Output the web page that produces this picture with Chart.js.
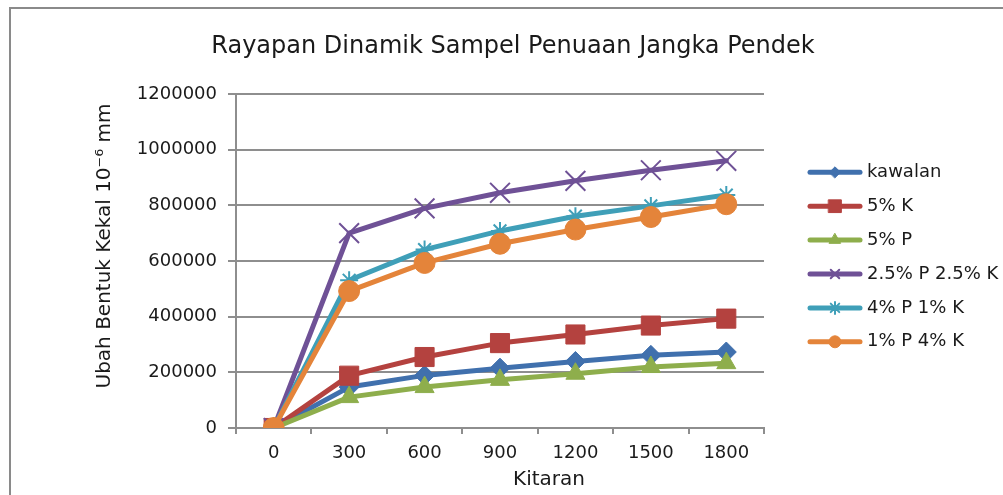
<!DOCTYPE html>
<html>
<head>
<meta charset="utf-8">
<script src="https://cdn.jsdelivr.net/npm/chart.js@4/dist/chart.umd.min.js"></script>
<style>
  html, body { margin: 0; padding: 0; background: #fff; overflow: hidden; }
  #wrap { width: 1003px; height: 495px; position: relative; }
</style>
</head>
<body>
<div id="wrap"><canvas id="c" width="1003" height="495"></canvas></div>
<script>
// Cycle counts along the x axis
const cycles = ['0', '300', '600', '900', '1200', '1500', '1800'];

// Permanent deformation (10^-6 mm) per mix
const kawalan = [0, 147000, 189000, 215000, 239000, 261000, 273000];
const k5      = [0, 188000, 255000, 305000, 336000, 368000, 393000];
const p5      = [0, 111000, 147000, 173000, 195000, 219000, 233000];
const p25k25  = [0, 700000, 789000, 845000, 888000, 926000, 960000];
const p4k1    = [0, 531000, 641000, 708000, 761000, 798000, 837000];
const p1k4    = [0, 492000, 593000, 662000, 713000, 758000, 804000];

// Value axis ticks
const yTicks = [0, 200000, 400000, 600000, 800000, 1000000, 1200000];

const TITLE = 'Rayapan Dinamik Sampel Penuaan Jangka Pendek';
const FONT = "'DejaVu Sans', sans-serif";
const GRID = '#8e8e8e';
const TEXT = '#1a1a1a';

function series(label, data, color, style, radius, legendRadius, order, pbw) {
  return {
    label, data, order,
    borderColor: color,
    backgroundColor: color,
    pointBackgroundColor: color,
    pointBorderColor: color,
    pointStyle: style,
    pointRadius: radius,
    pointHoverRadius: radius,
    pointBorderWidth: pbw,
    borderWidth: 5,
    borderJoinStyle: 'round',
    borderCapStyle: 'round',
    tension: 0,
    legendRadius
  };
}

const datasets = [
  series('kawalan',       kawalan, '#4070ad', 'rectRot',  10,   5.5, 5, 1),
  series('5% K',          k5,      '#b4423f', 'rect',     13.5, 9,   4, 1),
  series('5% P',          p5,      '#8eae4c', 'triangle', 11,   6.5, 3, 1),
  series('2.5% P 2.5% K', p25k25,  '#6f5196', 'crossRot', 14,   6,   2, 2),
  series('4% P 1% K',     p4k1,    '#3f9fb8', 'star',     9,    6,   1, 2),
  series('1% P 4% K',     p1k4,    '#e4843a', 'circle',   10.5, 6,   0, 1)
];

// Frame, title, axis titles and the legend with line + marker swatches
const decor = {
  id: 'decor',
  beforeDraw(chart) {
    const ctx = chart.ctx;
    ctx.save();
    ctx.strokeStyle = '#8a8a8a';
    ctx.lineWidth = 2;
    ctx.strokeRect(10, 8, 1200, 700);
    ctx.restore();
  },
  afterDraw(chart) {
    const ctx = chart.ctx;
    ctx.save();
    ctx.fillStyle = TEXT;
    ctx.textAlign = 'center';
    ctx.textBaseline = 'middle';
    ctx.font = '24px ' + FONT;
    ctx.fillText(TITLE, 513, 47);

    ctx.font = '20px ' + FONT;
    ctx.fillText('Kitaran', 549, 480);

    ctx.save();
    ctx.translate(105, 246);
    ctx.rotate(-Math.PI / 2);
    ctx.fillText('Ubah Bentuk Kekal 10\u207B\u2076 mm', 0, 0);
    ctx.restore();

    chart.data.datasets.forEach((ds, i) => {
      const y = 172.3 + 33.9 * i;
      ctx.strokeStyle = ds.borderColor;
      ctx.lineWidth = 5;
      ctx.lineCap = 'round';
      ctx.beginPath();
      ctx.moveTo(810, y);
      ctx.lineTo(860, y);
      ctx.stroke();
      ctx.fillStyle = ds.backgroundColor;
      ctx.strokeStyle = ds.borderColor;
      ctx.lineWidth = ds.pointBorderWidth;
      Chart.helpers.drawPoint(ctx, {
        pointStyle: ds.pointStyle,
        radius: ds.legendRadius,
        rotation: 0,
        borderWidth: ds.pointBorderWidth
      }, 835, y);
      ctx.fillStyle = TEXT;
      ctx.textAlign = 'left';
      ctx.textBaseline = 'middle';
      ctx.font = '18px ' + FONT;
      ctx.fillText(ds.label, 867, y);
    });
    ctx.restore();
  }
};

new Chart(document.getElementById('c'), {
  type: 'line',
  data: { labels: cycles, datasets },
  plugins: [decor],
  options: {
    responsive: false,
    animation: false,
    devicePixelRatio: 1,
    layout: { padding: { left: 0, right: 239, top: 94, bottom: 0 } },
    plugins: {
      legend: { display: false },
      tooltip: { enabled: false },
      title: { display: false }
    },
    scales: {
      x: {
        type: 'category',
        offset: true,
        grid: {
          offset: true,
          drawOnChartArea: false,
          drawTicks: true,
          tickLength: 6,
          color: GRID,
          lineWidth: 2
        },
        border: { color: GRID, width: 2 },
        ticks: {
          color: TEXT,
          font: { family: FONT, size: 18 },
          padding: 9,
          maxRotation: 0,
          autoSkip: false
        },
        afterFit(scale) { scale.height = 67; }
      },
      y: {
        min: 0,
        max: 1200000,
        afterBuildTicks(scale) { scale.ticks = yTicks.map(v => ({ value: v })); },
        grid: {
          color: GRID,
          lineWidth: 2,
          drawTicks: true,
          tickLength: 8
        },
        border: { color: GRID, width: 2 },
        ticks: {
          color: TEXT,
          font: { family: FONT, size: 18 },
          padding: 11,
          callback: v => String(v)
        },
        afterFit(scale) { scale.width = 236; }
      }
    }
  }
});
</script>
</body>
</html>
